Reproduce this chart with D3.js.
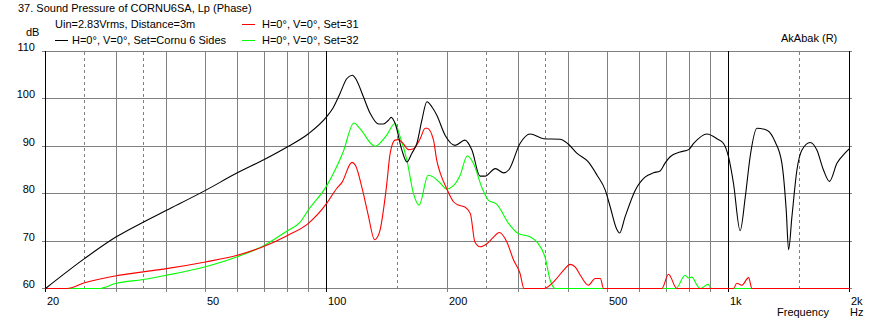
<!DOCTYPE html>
<html><head><meta charset="utf-8">
<script src="https://cdn.jsdelivr.net/npm/d3@7"></script>
<style>
body{margin:0;background:#fff;}
svg text{font-family:"Liberation Sans",Arial,sans-serif;font-size:11px;fill:#000;}
</style></head>
<body><svg id="c" width="872" height="326"></svg>
<script>
// ---- data ----
const title = "37. Sound Pressure of CORNU6SA, Lp (Phase)";
const legendLabels = ["H=0°, V=0°, Set=Cornu 6 Sides","H=0°, V=0°, Set=31","H=0°, V=0°, Set=32"];
const seriesColors = ["#000000","#ff0000","#00ff00"];
const yTicks = [60,70,80,90,100,110];
const xTickLabels = [[20,"20"],[50,"50"],[100,"100"],[200,"200"],[500,"500"],[1000,"1k"],[2000,"2k"]];
const gridSolid = [30,40,50,60,70,80,90,200,300,400,500,600,700,800,900];
const gridDashed = [25,35,150,250,350,1500];
const gridBlack = [20,100,1000,2000];

const blackSeries = [[20,60],[25,66.3],[30,70.9],[35,74.0],[40,76.5],[50,80.7],[60,84.4],[70,87.2],[80,89.9],[90,92.6],[100,96.2],[104,98.2],[108,101.1],[112.4,104.3],[116,105.0],[118.7,104.0],[123.6,100.4],[128.5,96.9],[134.7,94.7],[138.6,94.7],[142.6,95.5],[144.9,96.1],[148.2,94.8],[154,89.2],[158.5,86.7],[163,88.5],[167.8,90.6],[172.7,95.5],[177.7,99.4],[183,98.3],[188,96.6],[197.4,92.3],[209,90.2],[221,91.3],[230,89.2],[241,83.7],[248,83.7],[263,85.3],[276,84.4],[284,85.0],[303,90.6],[321,92.6],[347,91.6],[381,91.5],[398,90.6],[420,88.5],[448,86.7],[471,83.9],[494,80.7],[508,77.2],[526,72.7],[536,71.7],[553,75.1],[586,80.7],[620,83.5],[651,84.4],[676,84.8],[696,86.5],[716,87.8],[758,88.8],[796,89.3],[819,90.6],[884,92.6],[936,91.6],[972,90.6],[1000,87.8],[1029,82.2],[1069,72.2],[1101,79.3],[1132,87.8],[1177,93.8],[1246,93.4],[1307,90.9],[1358,86.4],[1392,76.5],[1411,68.2],[1438,75.1],[1480,85.0],[1523,89.2],[1597,90.8],[1659,89.2],[1723,85.0],[1783,82.6],[1861,86.4],[1951,88.6],[2000,89.5]];

const redSeries = [[20,60],[22.6,60],[25,61.2],[30,62.7],[35,63.5],[40,64.2],[50,65.6],[60,67.0],[70,68.9],[80,71.2],[90,73.7],[100,77.9],[106,81.1],[109.3,82.4],[115.7,86.6],[118,86.0],[123,80.7],[127,75.5],[131.7,70.3],[135.5,71.9],[141,81.5],[144,88.5],[148,91.3],[151,91.4],[155,90.6],[160,89.3],[164.6,89.5],[171,91.6],[176,93.8],[178,93.8],[184.6,91.3],[188,87.1],[192,84.3],[199,81.1],[207,78.3],[213,77.6],[221,77.2],[228,75.8],[234,69.8],[241,68.8],[251,69.5],[260,70.8],[269,71.8],[281,69.8],[292,66.0],[303,63.2],[310,60],[347,60],[371,61.8],[389,63.9],[404,65.1],[416,64.5],[428,62.8],[448,60.7],[466,62.1],[480,62.1],[489,60],[683,60],[709,63.0],[744,60],[1029,60],[1049,61.1],[1080,60.7],[1122,62.3],[1144,60],[2000,60]];

const greenSeries = [[20,60],[27.1,60],[30,61.1],[35,61.9],[40,62.8],[50,64.6],[60,66.7],[70,69.1],[80,72.2],[86,74.0],[90,76.5],[100,81.6],[110,88.8],[117,94.9],[121,93.8],[132,90.0],[141,92.3],[148,94.8],[152.5,92.0],[158.5,87.1],[164.6,80.0],[170,77.6],[179,83.9],[184.6,83.5],[192,82.2],[199,81.0],[207,81.7],[215,83.9],[224,88.0],[232,86.4],[244,81.1],[253,78.6],[265,77.8],[284,73.7],[300,71.6],[321,70.9],[334,69.8],[350,66.5],[360,61.8],[371,60],[740,60],[780,62.8],[796,62.2],[811,62.4],[835,60.7],[851,60],[890,60.9],[904,60],[2000,60]];

// ---- chart ----
const svg = d3.select("#c");
const x = d3.scaleLog().domain([20,2000]).range([45.5,849.5]);
const y = d3.scaleLinear().domain([60,110]).range([288.5,51.5]);
const px = v => Math.round(x(v)-0.5)+0.5;
const py = v => Math.round(y(v)-0.5)+0.5;
const yTop = py(110), yBot = py(60);

const g = svg.append("g").attr("shape-rendering","crispEdges");
g.selectAll(".hg").data(yTicks).join("line")
  .attr("x1",42).attr("x2",852).attr("y1",d=>py(d)).attr("y2",d=>py(d))
  .attr("stroke","#808080");
g.selectAll(".vs").data(gridSolid).join("line")
  .attr("x1",px).attr("x2",px).attr("y1",yTop).attr("y2",yBot+3).attr("stroke","#808080");
g.selectAll(".vd").data(gridDashed).join("line")
  .attr("x1",px).attr("x2",px).attr("y1",yTop).attr("y2",yBot+3).attr("stroke","#808080")
  .attr("stroke-dasharray","3,3");
g.selectAll(".vb").data(gridBlack).join("line")
  .attr("x1",px).attr("x2",px).attr("y1",yTop-1).attr("y2",yBot+3).attr("stroke","#000");

const line = d3.line().x(d=>x(d[0])).y(d=>y(d[1])).curve(d3.curveMonotoneX);
const order = [[greenSeries,2],[redSeries,1],[blackSeries,0]];
order.forEach(([s,i])=>{
  svg.append("path").attr("d",line(s)).attr("fill","none")
    .attr("stroke",seriesColors[i]).attr("stroke-width",1.1);
});

svg.selectAll(".yl").data(yTicks).join("text")
  .attr("x",35).attr("y",d=>py(d)-0.5).attr("text-anchor","end").text(d=>d);
svg.append("text").attr("x",26).attr("y",36).text("dB");

const xa = svg.append("g").attr("transform",`translate(0,${yBot})`)
  .call(d3.axisBottom(x).tickValues(xTickLabels.map(d=>d[0]))
    .tickFormat((d,i)=>xTickLabels[i][1]).tickSize(0).tickPadding(0));
xa.select(".domain").remove();
xa.selectAll("text").attr("text-anchor","start").attr("dy",null).attr("y",16.5)
  .attr("x",1).style("font-family",'"Liberation Sans",Arial,sans-serif').style("font-size","11px");

svg.append("text").attr("x",777).attr("y",316).text("Frequency");
svg.append("text").attr("x",850).attr("y",316).text("Hz");
svg.append("text").attr("x",781).attr("y",42).text("AkAbak (R)");

svg.append("text").attr("x",18).attr("y",12).text(title);
svg.append("text").attr("x",55).attr("y",28).text("Uin=2.83Vrms, Distance=3m");
const leg = [[55,40,0],[242,24,1],[242,40,2]];
leg.forEach(([lx,ly,i])=>{
  svg.append("line").attr("x1",lx).attr("x2",lx+13).attr("y1",ly+0.5).attr("y2",ly+0.5)
    .attr("stroke",seriesColors[i]).attr("shape-rendering","crispEdges");
  svg.append("text").attr("x",lx+(i===0?17:20)).attr("y",ly+4).text(legendLabels[i]);
});
</script></body></html>
